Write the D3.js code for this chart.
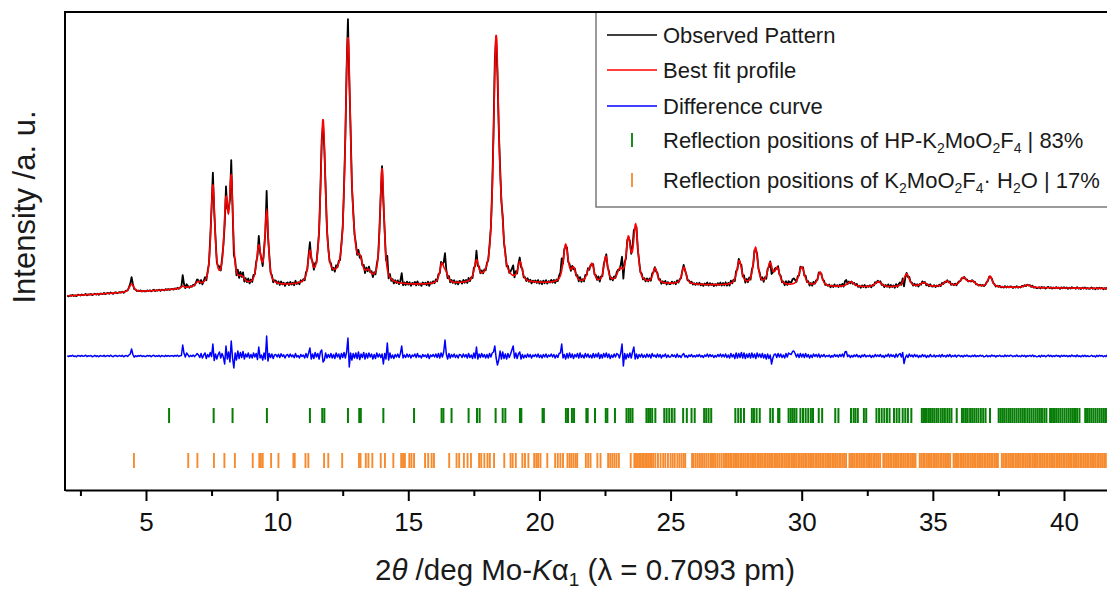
<!DOCTYPE html>
<html>
<head>
<meta charset="utf-8">
<style>
  body { margin: 0; background: #fff; }
  svg text { font-family: Arial, "Liberation Sans", sans-serif; }
</style>
</head>
<body>
<script src="https://cdn.jsdelivr.net/npm/d3@7"></script>
<script>
// ---- data ----
// reflections of the refined profile: position (deg 2theta), height above background (counts), FWHM (deg)
var peakPos    = [4.45, 6.40, 6.98, 7.55, 8.05, 8.25, 8.65, 9.30, 9.60, 11.25, 11.75, 12.70, 12.92, 13.16, 13.48, 14.00, 16.28, 16.44, 17.60, 18.35, 18.57, 19.26, 21.00, 21.30, 21.86, 22.01, 22.53, 23.07, 23.39, 23.67, 24.41, 25.51, 27.62, 28.24, 28.79, 29.07, 30.00, 30.70, 31.87, 32.92, 34.00, 34.65, 35.53, 36.16, 36.50, 37.18, 38.60];
var peakHeight = [80, 20, 40, 1000, 780, 1000, 60, 370, 720, 290, 1630, 2440, 140, 160, 80, 1150, 190, 80, 200, 2450, 300, 190, 380, 130, 90, 170, 260, 120, 420, 560, 150, 170, 240, 370, 210, 160, 190, 140, 50, 55, 130, 40, 53, 87, 50, 108, 25];
var peakWidth  = [0.2, 0.15, 0.2, 0.18, 0.18, 0.16, 0.25, 0.2, 0.16, 0.18, 0.22, 0.24, 0.2, 0.22, 0.25, 0.18, 0.2, 0.2, 0.2, 0.24, 0.2, 0.2, 0.22, 0.2, 0.18, 0.18, 0.18, 0.25, 0.2, 0.2, 0.2, 0.2, 0.22, 0.2, 0.22, 0.22, 0.25, 0.2, 0.3, 0.3, 0.25, 0.3, 0.3, 0.3, 0.3, 0.2, 0.3];

// background knots
var bgPos = [2, 4, 6, 7, 9, 12, 15, 20, 25, 27, 30, 33, 36, 41.7];
var bgVal = [300, 330, 360, 380, 390, 400, 405, 420, 415, 405, 395, 385, 390, 375];

// observed - calculated, every 0.05 deg from 2.00 (one row = 1 deg)
var diffStart = 2.0, diffStep = 0.05;
var diffVal = [
  4,-6,3,-2,7,-5,1,-8,5,2,-4,6,-3,0,8,-6,3,-1,5,-7,
  -2,6,-5,3,-8,4,1,-3,7,-6,2,5,-4,8,-2,-7,3,6,-5,1,
  4,-3,6,-8,2,5,-4,10,20,70,15,-12,3,-6,4,-2,7,-5,2,-4,
  -4,6,-2,5,-7,3,8,-5,2,-3,6,-8,4,1,-6,7,-3,5,-4,2,
  3,-5,6,-2,8,-4,2,5,110,25,-10,30,12,-8,6,-4,10,-6,8,25,
  10,-15,25,-20,8,30,-25,15,-10,35,-5,120,-45,20,-30,15,40,-20,25,-10,
  -80,100,-30,40,-60,150,-20,-120,30,-40,50,-25,35,-15,45,-30,20,-10,30,-20,
  15,-20,30,-10,25,-35,90,-20,10,-40,30,-30,200,-50,25,-15,20,-25,10,15,
  -10,18,-15,22,-5,12,-20,8,15,-12,20,-8,10,-18,25,-10,5,-20,15,-5,
  10,-20,25,-15,30,80,-30,20,-25,35,-10,25,-30,40,60,-60,-40,30,-20,15,
  -15,25,-20,15,-25,30,-10,20,-30,25,-15,35,-20,40,180,-110,30,-40,25,-20,
  30,-25,40,-35,20,-15,35,-30,25,-20,30,-10,20,-30,15,-25,30,-10,20,-15,
  20,-80,25,-30,130,-40,30,-20,10,-25,15,-10,20,-15,25,100,-20,10,-15,20,
  -10,15,-20,10,-5,20,-15,25,-10,5,-20,15,-5,10,-15,20,-25,10,-5,15,
  -10,20,-15,25,-20,30,-10,40,160,20,-30,25,-20,15,-10,20,-15,10,-20,15,
  10,-15,20,-10,15,-20,25,-15,10,-25,30,-20,90,-30,20,-15,25,-10,15,-20,
  15,-20,25,-10,30,40,100,-20,-90,-40,50,-30,40,-25,20,-30,25,-15,20,60,
  100,-20,30,-25,20,40,-30,15,-20,10,-15,20,-10,15,-20,10,-5,15,-10,20,
  -15,10,-20,15,-10,20,-15,10,-5,20,-10,15,-20,10,-15,25,30,120,-20,15,
  -30,25,-20,30,-15,20,-25,15,-10,25,-20,30,-15,10,-20,25,-10,20,-15,10,
  -20,25,-15,20,-10,30,-25,15,-20,25,-10,30,-15,20,-25,10,-15,20,-10,25,
  15,-20,30,120,-100,25,-30,20,-15,30,-20,40,90,-30,20,-25,15,-10,20,-15,
  10,-15,20,-10,15,-20,25,-5,10,-15,20,-10,15,-20,10,-5,20,-15,10,-10,
  -10,15,-5,10,-15,20,-10,5,-15,10,25,-10,5,-15,10,-5,15,-10,5,-10,
  10,-5,15,-10,5,-15,10,-5,20,-10,15,-5,10,-15,5,-10,15,-5,20,-10,
  15,-10,20,-15,10,-20,25,-10,15,-25,30,-20,25,-15,35,-20,30,-25,20,-15,
  25,-20,30,-15,20,-25,30,-10,20,-15,25,-20,15,-30,20,-25,10,-80,-20,15,
  20,-15,25,-10,20,-15,10,-20,25,-10,30,20,15,45,50,25,-10,20,-15,25,
  -10,20,-15,25,-10,15,-20,10,-15,20,-5,15,-10,20,-15,10,-5,15,-10,5,
  -5,10,-15,5,-10,15,-5,10,-10,15,-5,20,-10,40,45,-5,10,-15,5,-10,
  10,-5,15,-10,5,-15,10,-5,15,-10,5,-5,10,-15,5,-10,15,-5,10,-5,
  15,-10,5,-15,10,-5,20,-10,15,-5,10,-15,20,-10,15,25,-10,35,-75,-20,
  10,-15,20,-5,10,-10,15,-5,10,-15,5,-10,15,-5,10,-15,5,-10,15,-5,
  -5,10,-10,5,-5,10,-10,15,-5,5,-10,10,-5,15,-10,5,-5,10,-10,5,
  8,-6,4,-9,7,-3,10,-5,2,-8,6,-4,9,-7,3,-5,8,-2,6,-9,
  -4,7,-8,3,-6,10,-2,5,-9,4,-3,8,-6,2,-7,9,-4,6,-3,7,
  5,-8,3,-4,9,-6,2,-7,8,-3,6,-9,4,-2,7,-5,10,-6,3,-8,
  -6,4,-9,7,-3,5,-8,2,9,-4,6,-7,3,-5,8,-2,4,-9,6,-3,
  7,-3,5,-8,4,-6,9,-2,3,-7,10,-5,2,-8,6,-4,7,-6,3,-5,
  -3,8,-5,2,-9,6,-4,7,-2,5,-8,3,-6,9,-4,2,-7,5,-3,6
];

// reflection positions (deg 2theta)
var hpRefl = [5.88, 7.58, 8.30, 9.61, 11.25, 11.72, 11.80, 12.70, 13.13, 13.19, 14.05, 15.22, 16.27, 16.34, 16.65, 17.30, 17.62, 17.72, 18.33, 18.60, 18.70, 19.26, 19.31, 20.12, 20.17, 21.01, 21.09, 21.24, 21.32, 21.79, 21.84, 22.12, 22.53, 22.59, 22.88, 23.32, 23.40, 23.47, 23.55, 24.08, 24.15, 24.22, 24.30, 24.42, 24.76, 24.85, 24.95, 25.05, 25.15, 25.48, 25.62, 25.80, 25.92, 26.28, 26.36, 26.45, 26.55, 27.47, 27.58, 27.68, 27.80, 28.10, 28.18, 28.28, 28.40, 28.80, 28.90, 29.10, 29.15, 29.50, 29.58, 29.65, 29.72, 29.80, 29.95, 30.05, 30.15, 30.25, 30.35, 30.43, 30.65, 30.78, 31.28, 31.40, 31.88, 31.98, 32.05, 32.14, 32.37, 32.46, 32.85, 32.95, 33.05, 33.15, 33.25, 33.35, 33.52, 33.62, 33.72, 33.85, 33.95, 34.05, 34.18, 34.58, 34.64, 34.70, 34.77, 34.85, 34.92, 34.99, 35.06, 35.14, 35.21, 35.30, 35.38, 35.46, 35.55, 35.63, 35.71, 35.91, 36.11, 36.18, 36.26, 36.33, 36.42, 36.50, 36.58, 36.66, 36.74, 36.83, 36.92, 37.01, 37.18, 37.51, 37.58, 37.65, 37.72, 37.80, 37.88, 37.95, 38.03, 38.11, 38.19, 38.27, 38.35, 38.43, 38.51, 38.60, 38.68, 38.76, 38.84, 38.92, 39.00, 39.08, 39.16, 39.25, 39.33, 39.47, 39.54, 39.62, 39.70, 39.78, 39.86, 39.94, 40.02, 40.10, 40.18, 40.26, 40.34, 40.42, 40.50, 40.59, 40.81, 40.88, 40.96, 41.04, 41.12, 41.20, 41.28, 41.36, 41.44, 41.52, 41.60];
var hydRefl = [4.54, 6.61, 6.96, 7.59, 7.99, 8.39, 9.07, 9.32, 9.38, 9.45, 9.77, 10.05, 10.62, 10.67, 11.08, 11.19, 11.79, 11.95, 12.48, 13.12, 13.18, 13.38, 13.48, 13.63, 13.95, 14.11, 14.43, 14.73, 14.80, 14.87, 15.04, 15.12, 15.22, 15.64, 15.76, 15.89, 15.98, 16.56, 16.84, 16.94, 17.12, 17.26, 17.39, 17.70, 17.78, 17.90, 18.02, 18.11, 18.27, 18.66, 18.90, 18.98, 19.10, 19.35, 19.45, 19.58, 19.80, 19.88, 19.95, 20.04, 20.30, 20.60, 20.70, 20.80, 20.90, 21.07, 21.15, 21.22, 21.30, 21.38, 21.44, 21.77, 21.86, 21.95, 22.21, 22.33, 22.62, 22.70, 22.78, 22.86, 22.94, 23.03, 23.48,
  23.62, 23.68, 23.74, 23.80, 23.86, 23.92, 23.98, 24.04, 24.10, 24.16, 24.22, 24.28, 24.34, 24.42, 24.52, 24.62, 24.72, 24.80, 24.90, 25.00, 25.08, 25.16, 25.26, 25.34, 25.42, 25.50, 25.56,
  25.82, 25.88, 25.96, 26.04, 26.12, 26.20, 26.28, 26.36, 26.44, 26.52, 26.58, 26.64, 26.70, 26.78, 26.86, 26.94, 27.02, 27.08,
  27.14, 27.20, 27.27, 27.33, 27.40, 27.46, 27.53, 27.59, 27.66, 27.72, 27.79, 27.85, 27.92, 27.98, 28.05, 28.11, 28.18, 28.24, 28.31, 28.37, 28.44, 28.50, 28.57, 28.63, 28.70, 28.76, 28.83, 28.89, 28.96, 29.02, 29.09, 29.15, 29.22, 29.28, 29.35, 29.41, 29.48, 29.54, 29.61, 29.67, 29.74, 29.80, 29.87, 29.93, 30.00, 30.06, 30.13, 30.19, 30.26, 30.32, 30.39, 30.45, 30.52, 30.58, 30.65, 30.71, 30.78, 30.84, 30.91, 30.97, 31.04, 31.10, 31.17, 31.23, 31.30, 31.36, 31.43, 31.49, 31.56, 31.62, 31.69,
  31.82, 31.88, 31.95, 32.01, 32.08, 32.14, 32.21, 32.27, 32.34, 32.40, 32.47, 32.53, 32.60, 32.66, 32.73, 32.79, 32.86, 32.92, 32.99, 33.11, 33.17, 33.24, 33.30, 33.37, 33.43, 33.50, 33.56, 33.63, 33.69, 33.76, 33.82, 33.89, 33.95, 34.02, 34.08, 34.15, 34.21, 34.28, 34.34,
  34.50, 34.56, 34.63, 34.69, 34.76, 34.82, 34.89, 34.95, 35.02, 35.08, 35.15, 35.21, 35.28, 35.34, 35.41, 35.47, 35.54, 35.60, 35.66, 35.79, 35.85, 35.92, 35.98, 36.05, 36.11, 36.18, 36.24, 36.31, 36.37, 36.44, 36.50, 36.57, 36.63, 36.70, 36.76, 36.83, 36.89, 36.96, 37.02, 37.09, 37.15, 37.22, 37.28, 37.35, 37.41, 37.48,
  37.63, 37.69, 37.76, 37.82, 37.89, 37.95, 38.02, 38.08, 38.15, 38.21, 38.28, 38.34, 38.41, 38.47, 38.54, 38.60, 38.67, 38.73, 38.80, 38.86, 38.93, 38.99, 39.06, 39.12, 39.19, 39.25, 39.32, 39.38, 39.45, 39.51, 39.58, 39.64, 39.71, 39.77, 39.84, 39.90, 39.97, 40.03, 40.10, 40.16, 40.23, 40.29, 40.36, 40.42, 40.49, 40.55, 40.62, 40.68, 40.75, 40.81, 40.88, 40.94, 41.01, 41.07, 41.14, 41.20, 41.27, 41.33, 41.40, 41.46, 41.53, 41.59, 41.66];

var xTicks = [5, 10, 15, 20, 25, 30, 35, 40];
var xMinor = [2.5, 7.5, 12.5, 17.5, 22.5, 27.5, 32.5, 37.5];

// ---- layout ----
var width = 1107, height = 589;
var mLeft = 65, mRight = 1107, mTop = 12, mBottom = 490;
var diffOffset = -300;           // where the difference curve sits
var hpRow = [-820, -970];        // tick row of HP phase
var hydRow = [-1270, -1420];     // tick row of hydrate phase

var svg = d3.select("body").append("svg")
    .attr("width", width)
    .attr("height", height);

var x = d3.scaleLinear().domain([1.912, 41.64]).range([mLeft, mRight]);
var y = d3.scaleLinear().domain([-1640, 3140]).range([mBottom, mTop]);
var bg = d3.scaleLinear().domain(bgPos).range(bgVal).clamp(true);

var eta = 0.7, k = 4 * Math.LN2;
function calc(t) {
  var s = bg(t);
  for (var i = 0; i < peakPos.length; i++) {
    var u = (t - peakPos[i]) / peakWidth[i];
    u = u * u;
    s += peakHeight[i] * (eta / (1 + 4 * u) + (1 - eta) * Math.exp(-k * u));
  }
  return s;
}

var calcPts = d3.range(200, 4171).map(function(i) { var t = i / 100; return [t, calc(t)]; });
var obsPts = diffVal.map(function(d, i) { var t = +(diffStart + diffStep * i).toFixed(2); return [t, calc(t) + d]; });
var difPts = diffVal.map(function(d, i) { var t = +(diffStart + diffStep * i).toFixed(2); return [t, d + diffOffset]; });

svg.append("defs").append("clipPath").attr("id", "plot")
  .append("rect").attr("x", mLeft).attr("y", mTop).attr("width", mRight - mLeft).attr("height", mBottom - mTop);

var g = svg.append("g").attr("clip-path", "url(#plot)");
var line = d3.line().x(function(d) { return x(d[0]); }).y(function(d) { return y(d[1]); });

g.append("path").datum(obsPts).attr("d", line)
  .attr("fill", "none").attr("stroke", "#000").attr("stroke-width", 1.8).attr("stroke-linejoin", "round");
g.append("path").datum(calcPts).attr("d", line)
  .attr("fill", "none").attr("stroke", "#ff0000").attr("stroke-width", 1.6);
g.append("path").datum(difPts).attr("d", line)
  .attr("fill", "none").attr("stroke", "#0000ff").attr("stroke-width", 1.5).attr("stroke-linejoin", "round");

g.selectAll("line.hp").data(hpRefl).join("line").attr("class", "hp")
  .attr("x1", d => x(d)).attr("x2", d => x(d))
  .attr("y1", y(hpRow[0])).attr("y2", y(hpRow[1]))
  .attr("stroke", "#067d06").attr("stroke-width", 2);
g.selectAll("line.hyd").data(hydRefl).join("line").attr("class", "hyd")
  .attr("x1", d => x(d)).attr("x2", d => x(d))
  .attr("y1", y(hydRow[0])).attr("y2", y(hydRow[1]))
  .attr("stroke", "#f68a2e").attr("stroke-width", 1.9);

// ---- axes ----
var ax = svg.append("g").attr("transform", "translate(0," + mBottom + ")")
  .call(d3.axisBottom(x).tickValues(xTicks).tickSize(11).tickSizeOuter(0).tickPadding(12).tickFormat(d3.format("d")));
ax.select(".domain").attr("stroke-width", 2);
ax.selectAll(".tick line").attr("stroke-width", 2);
ax.selectAll(".tick text").attr("font-size", 26).attr("font-family", "Arial, 'Liberation Sans', sans-serif").attr("fill", "#111");

var axm = svg.append("g").attr("transform", "translate(0," + mBottom + ")")
  .call(d3.axisBottom(x).tickValues(xMinor).tickSize(6).tickSizeOuter(0).tickFormat(""));
axm.select(".domain").remove();
axm.selectAll(".tick line").attr("stroke-width", 2);

svg.append("line").attr("x1", mLeft).attr("x2", mLeft).attr("y1", mTop).attr("y2", mBottom + 1)
  .attr("stroke", "#000").attr("stroke-width", 2);

// ---- legend ----
var lg = svg.append("g");
lg.append("rect").attr("x", 596).attr("y", mTop).attr("width", 600).attr("height", 195)
  .attr("fill", "#fff").attr("stroke", "#7a7a7a").attr("stroke-width", 1.5);

var legRows = [
  { y: 35, kind: "line", color: "#000", parts: [["Observed Pattern"]] },
  { y: 70, kind: "line", color: "#ff0000", parts: [["Best fit profile"]] },
  { y: 106, kind: "line", color: "#0000ff", parts: [["Difference curve"]] },
  { y: 140, kind: "tick", color: "#067d06", parts: [["Reflection positions of HP-K"], ["2", 1], ["MoO"], ["2", 1], ["F"], ["4", 1], [" | 83%"]] },
  { y: 180, kind: "tick", color: "#f68a2e", parts: [["Reflection positions of K"], ["2", 1], ["MoO"], ["2", 1], ["F"], ["4", 1], ["\u00b7 H"], ["2", 1], ["O | 17%"]] }
];
legRows.forEach(function(r) {
  if (r.kind === "line") {
    lg.append("line").attr("x1", 607).attr("x2", 657).attr("y1", r.y).attr("y2", r.y)
      .attr("stroke", r.color).attr("stroke-width", 1.6);
  } else {
    lg.append("line").attr("x1", 632).attr("x2", 632).attr("y1", r.y - 7).attr("y2", r.y + 7)
      .attr("stroke", r.color).attr("stroke-width", 1.8);
  }
  var t = lg.append("text").attr("x", 663).attr("y", r.y + 8).attr("font-size", 22).attr("fill", "#1a1a1a");
  var wasSub = false;
  r.parts.forEach(function(p) {
    var isSub = !!p[1];
    var dy = isSub ? 5 : (wasSub ? -5 : 0);
    var ts = t.append("tspan").attr("dy", dy).text(p[0]);
    if (isSub) ts.attr("font-size", 14);
    wasSub = isSub;
  });
});

// top frame line over legend
svg.append("line").attr("x1", mLeft - 1).attr("x2", mRight).attr("y1", mTop).attr("y2", mTop)
  .attr("stroke", "#000").attr("stroke-width", 2);

// ---- titles ----
var xt = svg.append("text").attr("x", 585).attr("y", 580).attr("text-anchor", "middle")
  .attr("font-size", 29.5).attr("fill", "#1a1a1a");
xt.append("tspan").text("2");
xt.append("tspan").attr("font-style", "italic").text("\u03b8");
xt.append("tspan").text(" /deg Mo-");
xt.append("tspan").attr("font-style", "italic").text("K");
xt.append("tspan").text("\u03b1");
xt.append("tspan").attr("font-size", 19).attr("dy", 6).text("1");
xt.append("tspan").attr("dy", -6).text(" (\u03bb = 0.7093 pm)");

svg.append("text").attr("transform", "translate(35,207) rotate(-90)").attr("text-anchor", "middle")
  .attr("font-size", 31).attr("fill", "#1a1a1a").text("Intensity /a. u.");
</script>
</body>
</html>
